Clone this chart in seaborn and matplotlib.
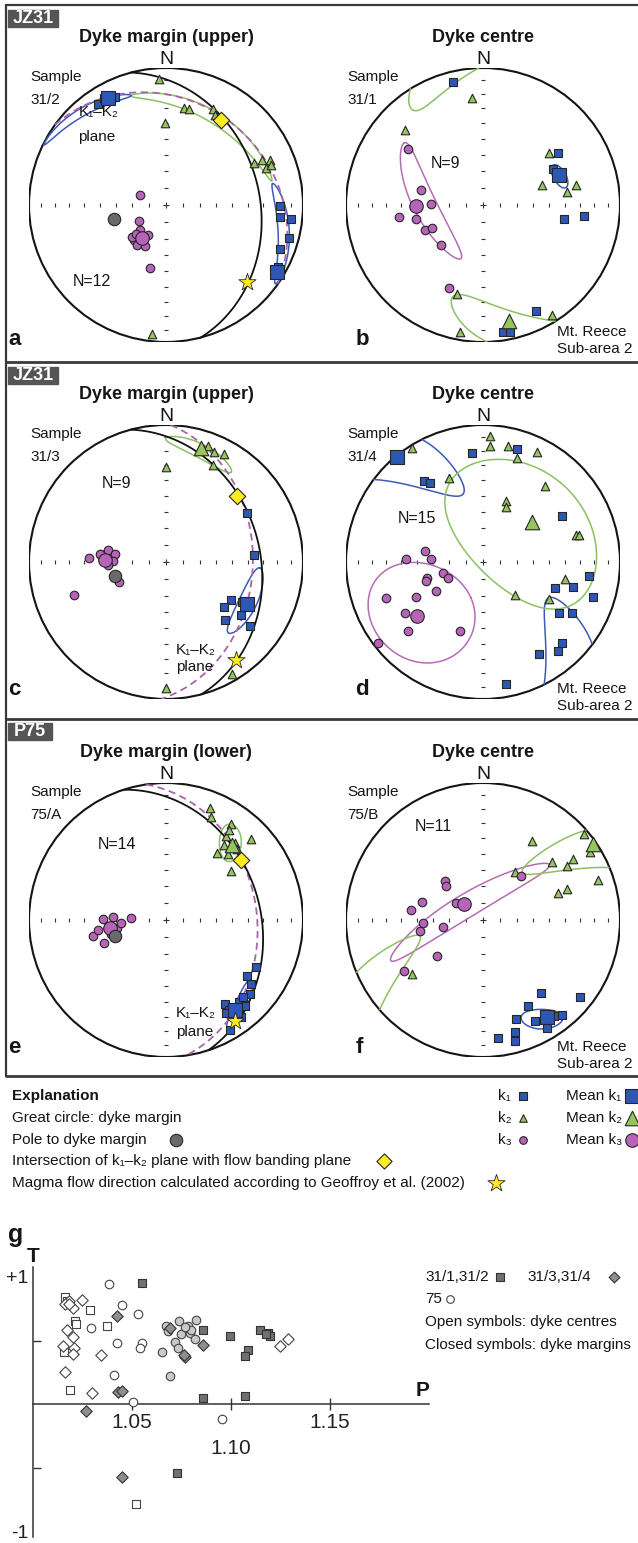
import numpy as np
import pandas as pd
import matplotlib
matplotlib.use("Agg")
import matplotlib.pyplot as plt
from matplotlib.patches import Circle, Rectangle
import seaborn as sns

sns.set_theme(style="white")
plt.rcParams['font.family'] = ['Liberation Sans', 'DejaVu Sans']
plt.rcParams['text.color'] = '#151515'

# ---- stereonet data: (x = east, y = north) on a unit equal-area net ----
# panel a  (31/2, dyke margin upper)
a_k1 = [(-0.50, 0.74), (-0.45, 0.78), (-0.37, 0.79), (0.83, -0.01), (0.83, -0.09),
        (0.91, -0.10), (0.90, -0.24), (0.83, -0.32), (0.82, -0.45)]
a_k1m = [(-0.42, 0.78), (0.81, -0.49)]
a_k2 = [(-0.05, 0.92), (-0.01, 0.60), (0.13, 0.71), (0.17, 0.70), (0.34, 0.70), (0.36, 0.66),
        (0.64, 0.31), (0.70, 0.33), (0.76, 0.33), (0.73, 0.27), (0.77, 0.29), (-0.10, -0.94)]
a_k2m = []
a_k3 = [(-0.19, 0.07), (-0.20, -0.12), (-0.19, -0.18), (-0.13, -0.22), (-0.235, -0.255),
        (-0.21, -0.29), (-0.15, -0.30), (-0.12, -0.46), (-0.25, -0.235), (-0.16, -0.235), (-0.22, -0.21)]
a_k3m = [(-0.175, -0.243)]
a_pole, a_diamond, a_star = (-0.38, -0.10), (0.40, 0.62), (0.59, -0.56)
# cones: centre x, centre y, long-axis aim x, aim y, semi-angles (deg), colour
a_cones = [(0.35, 0.64, 0.77, 0.18, 44, 4, 'g'), (0.86, -0.20, 0.78, 0.15, 25, 4, 'b'),
           (-0.60, 0.685, -0.89, 0.44, 24, 3, 'b')]

# panel b  (31/1, dyke centre)
b_k1 = [(-0.22, 0.895), (0.55, 0.38), (0.51, 0.26), (0.59, -0.10), (0.74, -0.08),
        (0.39, -0.775), (0.145, -0.93), (0.20, -0.93)]
b_k1m = [(0.555, 0.22)]
b_k2 = [(-0.08, 0.78), (-0.57, 0.55), (0.48, 0.38), (0.43, 0.145), (0.61, 0.095), (0.68, 0.145),
        (-0.19, -0.65), (0.50, -0.80), (-0.165, -0.93)]
b_k2m = [(0.19, -0.85)]
b_k3 = [(-0.55, 0.41), (-0.45, 0.11), (-0.38, 0.005), (-0.61, -0.09), (-0.49, -0.10),
        (-0.42, -0.18), (-0.37, -0.165), (-0.305, -0.29), (-0.245, -0.605)]
b_k3m = [(-0.49, -0.01)]
b_cones = [(0.17, -0.91, -0.21, -0.66, 35, 12, 'g'), (-0.43, 0.01, -0.57, 0.43, 38, 7, 'p'),
           (0.56, 0.21, 0.62, 0.10, 7, 4, 'b')]

# panel c  (31/3, dyke margin upper)
c_k1 = [(0.59, 0.36), (0.64, 0.05), (0.475, -0.28), (0.42, -0.33), (0.555, -0.29),
        (0.545, -0.39), (0.61, -0.47), (0.43, -0.42)]
c_k1m = [(0.59, -0.31)]
c_k2 = [(0.305, 0.845), (0.35, 0.80), (0.42, 0.785), (0.345, 0.71), (0.00, 0.69),
        (0.48, -0.815), (0.00, -0.92), (0.27, 0.82)]
c_k2m = [(0.255, 0.835)]
c_k3 = [(-0.56, 0.03), (-0.48, 0.06), (-0.425, 0.085), (-0.37, 0.06), (-0.39, 0.01),
        (-0.42, -0.025), (-0.345, -0.145), (-0.67, -0.24)]
c_k3m = [(-0.445, 0.015)]
c_pole, c_diamond, c_star = (-0.375, -0.10), (0.52, 0.48), (0.51, -0.715)
c_cones = [(0.255, 0.81, 0.475, 0.654, 18, 5, 'g'), (0.598, -0.294, 0.684, -0.049, 19, 6, 'b'),
           (-0.45, 0.04, -0.35, 0.0, 5, 3, 'p')]

# panel d  (31/4, dyke centre)
d_k1 = [(-0.43, 0.59), (-0.39, 0.575), (-0.08, 0.795), (0.25, 0.825), (0.58, 0.335),
        (0.775, -0.10), (0.66, -0.18), (0.525, -0.19), (0.80, -0.255), (0.555, -0.375),
        (0.65, -0.375), (0.58, -0.59), (0.55, -0.65), (0.41, -0.675), (0.165, -0.89)]
d_k1m = [(-0.625, 0.77)]
d_k2 = [(0.05, 0.92), (0.05, 0.845), (-0.515, 0.835), (0.18, 0.85), (0.25, 0.76), (0.395, 0.805),
        (-0.245, 0.615), (0.455, 0.555), (0.165, 0.445), (0.165, 0.405), (0.68, 0.195),
        (0.70, 0.20), (0.60, -0.125), (0.23, -0.24), (0.48, -0.27)]
d_k2m = [(0.36, 0.295)]
d_k3 = [(-0.425, 0.08), (-0.38, 0.025), (-0.565, 0.02), (-0.295, -0.08), (-0.255, -0.115),
        (-0.41, -0.115), (-0.415, -0.14), (-0.34, -0.21), (-0.705, -0.26), (-0.49, -0.255),
        (-0.57, -0.37), (-0.545, -0.50), (-0.165, -0.505), (-0.77, -0.59)]
d_k3m = [(-0.485, -0.395)]
d_cones = [(-0.626, 0.765, -0.145, 0.49, 50, 12.5, 'b'), (0.323, 0.246, 0.704, -0.283, 52, 37, 'g'),
           (-0.466, -0.382, -0.084, -0.259, 33, 29, 'p')]

# panel e  (75/A, dyke margin lower)
e_k1 = [(0.66, -0.34), (0.59, -0.41), (0.61, -0.54), (0.53, -0.60), (0.43, -0.61), (0.46, -0.66),
        (0.58, -0.63), (0.49, -0.70), (0.47, -0.80), (0.44, -0.68), (0.56, -0.56), (0.62, -0.47),
        (0.55, -0.71)]
e_k1m = [(0.50, -0.66)]
e_k2 = [(0.32, 0.82), (0.33, 0.75), (0.475, 0.70), (0.44, 0.615), (0.50, 0.565), (0.62, 0.59),
        (0.375, 0.49), (0.45, 0.48), (0.475, 0.355), (0.52, 0.52), (0.46, 0.66), (0.42, 0.55)]
e_k2m = [(0.48, 0.55)]
e_k3 = [(-0.46, 0.01), (-0.385, 0.02), (-0.255, 0.015), (-0.42, -0.05), (-0.535, -0.12),
        (-0.455, -0.17), (-0.36, -0.06), (-0.33, -0.02), (-0.50, -0.07), (-0.40, -0.10)]
e_k3m = [(-0.41, -0.06)]
e_pole, e_diamond, e_star = (-0.37, -0.12), (0.545, 0.44), (0.505, -0.74)
e_cones = [(0.47, 0.565, 0.44, 0.42, 12, 6, 'g'), (0.55, -0.62, 0.62, -0.40, 14, 4, 'b')]

# panel f  (75/B, dyke centre)
f_k1 = [(0.42, -0.53), (0.71, -0.56), (0.33, -0.63), (0.24, -0.72), (0.38, -0.74), (0.58, -0.69),
        (0.47, -0.79), (0.11, -0.86), (0.23, -0.82), (0.23, -0.88), (0.52, -0.70)]
f_k1m = [(0.47, -0.71)]
f_k2 = [(0.36, 0.575), (0.505, 0.425), (0.615, 0.395), (0.655, 0.445), (0.74, 0.63), (0.78, 0.495),
        (0.84, 0.295), (0.55, 0.20), (0.61, 0.225), (0.235, 0.35), (-0.52, -0.395)]
f_k2m = [(0.80, 0.555)]
f_k3 = [(-0.28, 0.285), (-0.27, 0.245), (-0.445, 0.135), (-0.525, 0.07), (-0.20, 0.125),
        (-0.435, -0.025), (-0.46, -0.08), (-0.295, -0.05), (-0.335, -0.26), (-0.58, -0.37), (0.28, 0.32)]
f_k3m = [(-0.14, 0.12)]
f_cones = [(-0.13, 0.10, 0.494, 0.407, 57, 7, 'p'), (0.84, 0.525, 0.259, 0.333, 54, 9, 'g'),
           (0.43, -0.725, 0.64, -0.73, 12, 6, 'b')]

# ---- T-P diagram (panel g) ----
p_75B = [1.0385, 1.0447, 1.0529, 1.0291, 1.0422, 1.0553, 1.0541, 1.0410, 1.0506, 1.0955]
t_75B = [0.946, 0.779, 0.710, 0.602, 0.484, 0.484, 0.440, 0.233, 0.022, -0.111]
p_75A = [1.0672, 1.0680, 1.0738, 1.0783, 1.0824, 1.0748, 1.0791, 1.0820, 1.0717, 1.0730,
         1.0652, 1.0693, 1.0799, 1.0768]
t_75A = [0.619, 0.577, 0.651, 0.612, 0.663, 0.553, 0.558, 0.514, 0.489, 0.442, 0.410, 0.226,
         0.582, 0.607]
p_312 = [1.0549, 1.0861, 1.0996, 1.1148, 1.1189, 1.1197, 1.1086, 1.1072, 1.0861, 1.1070, 1.0727, 1.1178]
t_312 = [0.956, 0.587, 0.536, 0.580, 0.563, 0.533, 0.425, 0.378, 0.047, 0.066, -0.541, 0.553]
p_311 = [1.0164, 1.0170, 1.0287, 1.0211, 1.0373, 1.0158, 1.0189, 1.0520, 1.0217]
t_311 = [0.840, 0.813, 0.742, 0.656, 0.612, 0.410, 0.115, -0.781, 0.631]
p_313 = [1.0422, 1.0693, 1.0857, 1.0768, 1.0762, 1.0430, 1.0451, 1.0266, 1.0447]
t_313 = [0.695, 0.600, 0.469, 0.371, 0.386, 0.101, 0.108, -0.049, -0.572]
p_314 = [1.0246, 1.0184, 1.0164, 1.0201, 1.0174, 1.0201, 1.0154, 1.0209, 1.0201, 1.0344,
         1.0164, 1.0297, 1.1246, 1.1287, 1.0180]
t_314 = [0.823, 0.811, 0.784, 0.754, 0.587, 0.528, 0.459, 0.440, 0.398, 0.386, 0.251, 0.091,
         0.455, 0.516, 0.791]

BLUE, GREEN, PURPLE = '#2d57b4', '#95c55b', '#b763b8'
EDGE = '#262626'
LINE = {'b': '#3c5bb8', 'g': '#8cc063', 'p': '#b46db4'}

W, H = 638, 1543
R = 137
fig = plt.figure(figsize=(W / 100, H / 100), dpi=100)
bg = fig.add_axes([0, 0, 1, 1])
bg.set_xlim(0, W)
bg.set_ylim(H, 0)
bg.axis('off')


def to_vec(x, y):
    d = 1 - (x * x + y * y)
    f = np.sqrt(1 + d)
    return np.array([x * f, y * f, d])


def project(v):
    v = v / np.linalg.norm(v, axis=0)
    flip = v[2] < 0
    v = np.where(flip, -v, v)
    s = np.sqrt(1 + v[2])
    return v[0] / s, v[1] / s, flip


def great_circle(ax, pole, **kw):
    n = to_vec(*pole)
    n = n / np.linalg.norm(n)
    a = np.cross(n, [0, 0, 1.0])
    a /= np.linalg.norm(a)
    b = np.cross(n, a)
    if b[2] < 0:
        b = -b
    t = np.linspace(0, np.pi, 300)
    v = np.outer(a, np.cos(t)) + np.outer(b, np.sin(t))
    x, y, _ = project(v)
    ax.plot(x, y, **kw)


def draw_cone(ax, c):
    cx, cy, px, py, sa, sb, key = c
    m = to_vec(cx, cy)
    m = m / np.linalg.norm(m)
    p = to_vec(px, py)
    p = p / np.linalg.norm(p)
    u = p - p.dot(m) * m
    u /= np.linalg.norm(u)
    w = np.cross(m, u)
    t = np.linspace(0, 2 * np.pi, 721)
    v = (m[:, None] + np.tan(np.radians(sa)) * np.cos(t) * u[:, None]
         + np.tan(np.radians(sb)) * np.sin(t) * w[:, None])
    x, y, flip = project(v)
    cut = np.where(np.diff(flip.astype(int)) != 0)[0] + 1
    for sx, sy in zip(np.split(x, cut), np.split(y, cut)):
        ax.plot(sx, sy, color=LINE[key], lw=1.1, zorder=2)


def pts(ax, data, marker, s, color, z, lw=0.8):
    if not data:
        return
    df = pd.DataFrame(data, columns=['x', 'y'])
    sns.scatterplot(data=df, x='x', y='y', ax=ax, marker=marker, s=s, color=color,
                    edgecolor=EDGE, linewidth=lw, zorder=z, legend=False, clip_on=False)


def net(cx, cy, title, sample, ncount, npos, letter, lpos, k1, k1m, k2, k2m, k3, k3m, cones,
        pole=None, diamond=None, star=None, k12pos=None, reece=False):
    ax = fig.add_axes([(cx - R) / W, 1 - (cy + R) / H, 2 * R / W, 2 * R / H])
    ax.add_patch(Circle((0, 0), 1, fill=False, lw=1.5, ec='#141414', zorder=1.5))
    r = np.sqrt(1 - np.sin(np.radians(np.arange(80, 0, -10))))
    ax.plot(np.r_[r, -r], np.zeros(16), ls='none', marker='|', ms=3, mew=0.8, color='#333')
    ax.plot(np.zeros(16), np.r_[r, -r], ls='none', marker='_', ms=3, mew=0.8, color='#333')
    ax.plot([0], [0], ls='none', marker='+', ms=4, mew=0.8, color='#333')
    for c in cones:
        draw_cone(ax, c)
    if pole is not None:
        great_circle(ax, pole, color='#111', lw=1.3, zorder=2.2)
        great_circle(ax, k3m[0], color='#a865a8', lw=1.3, ls=(0, (4, 2.5)), zorder=2.1)
    pts(ax, k1, 's', 40, BLUE, 3)
    pts(ax, k2, '^', 38, GREEN, 3)
    pts(ax, k3, 'o', 38, PURPLE, 3)
    pts(ax, k1m, 's', 95, BLUE, 4)
    pts(ax, k2m, '^', 110, GREEN, 4)
    pts(ax, k3m, 'o', 95, PURPLE, 4)
    if pole is not None:
        pts(ax, [pole], 'o', 80, '#6a6a6a', 4.5)
        pts(ax, [diamond], 'D', 70, '#ffec1f', 5)
        pts(ax, [star], '*', 170, '#ffec1f', 5, lw=0.6)
    ax.set_xlim(-1, 1)
    ax.set_ylim(-1, 1)
    ax.axis('off')
    ax.text(0, 1.22, title, ha='center', va='center', fontsize=13, fontweight='bold')
    ax.text(0, 1.065, 'N', ha='center', va='center', fontsize=14)
    ax.text(-0.99, 0.935, 'Sample', ha='left', va='center', fontsize=11)
    ax.text(-0.99, 0.77, sample, ha='left', va='center', fontsize=11)
    ax.text(npos[0], npos[1], 'N=' + ncount, ha='left', va='center', fontsize=11.5)
    ax.text(lpos[0], lpos[1], letter, ha='left', va='center', fontsize=16, fontweight='bold')
    if k12pos is not None:
        ax.text(k12pos[0], k12pos[1], 'K\u2081\u2013K\u2082', ha='left', va='center', fontsize=11)
        ax.text(k12pos[0], k12pos[2], 'plane', ha='left', va='center', fontsize=11)
    if reece:
        ax.text(0.54, -0.93, 'Mt. Reece', ha='left', va='center', fontsize=11)
        ax.text(0.54, -1.05, 'Sub-area 2', ha='left', va='center', fontsize=11)
    return ax


net(166, 205, 'Dyke margin (upper)', '31/2', '12', (-0.68, -0.56), 'a', (-1.15, -0.98),
    a_k1, a_k1m, a_k2, a_k2m, a_k3, a_k3m, a_cones, a_pole, a_diamond, a_star,
    k12pos=(-0.64, 0.68, 0.50))
net(483, 205, 'Dyke centre', '31/1', '9', (-0.38, 0.30), 'b', (-0.93, -0.98),
    b_k1, b_k1m, b_k2, b_k2m, b_k3, b_k3m, b_cones, reece=True)
net(166, 562, 'Dyke margin (upper)', '31/3', '9', (-0.47, 0.575), 'c', (-1.15, -0.93),
    c_k1, c_k1m, c_k2, c_k2m, c_k3, c_k3m, c_cones, c_pole, c_diamond, c_star,
    k12pos=(0.07, -0.64, -0.77))
net(483, 562, 'Dyke centre', '31/4', '15', (-0.62, 0.32), 'd', (-0.93, -0.93),
    d_k1, d_k1m, d_k2, d_k2m, d_k3, d_k3m, d_cones, reece=True)
net(166, 920, 'Dyke margin (lower)', '75/A', '14', (-0.50, 0.55), 'e', (-1.15, -0.93),
    e_k1, e_k1m, e_k2, e_k2m, e_k3, e_k3m, e_cones, e_pole, e_diamond, e_star,
    k12pos=(0.07, -0.68, -0.82))
net(483, 920, 'Dyke centre', '75/B', '11', (-0.50, 0.68), 'f', (-0.93, -0.93),
    f_k1, f_k1m, f_k2, f_k2m, f_k3, f_k3m, f_cones, reece=True)

# ---- frame and group tags ----
FR = '#3a3a3a'
bg.plot([6, W], [5, 5], color=FR, lw=1.6)
bg.plot([6, 6], [5, 1076], color=FR, lw=1.6)
for yy in [362, 719, 1076]:
    bg.plot([6, W], [yy, yy], color=FR, lw=2.0)
for tag, y0, wd in [('JZ31', 10, 50), ('JZ31', 367, 50), ('P75', 723, 44)]:
    bg.add_patch(Rectangle((8, y0), wd, 17, color='#555555', zorder=3))
    bg.text(8 + wd / 2, y0 + 8.8, tag, color='white', fontsize=13, fontweight='bold',
            ha='center', va='center', zorder=4)

# ---- explanation ----
ex_y = [1096, 1118, 1140, 1161, 1183]
bg.text(12, ex_y[0], 'Explanation', fontsize=11, fontweight='bold', va='center')
bg.text(12, ex_y[1], 'Great circle: dyke margin', fontsize=11, va='center')
bg.text(12, ex_y[2], 'Pole to dyke margin', fontsize=11, va='center')
bg.text(12, ex_y[3], 'Intersection of k\u2081\u2013k\u2082 plane with flow banding plane', fontsize=11, va='center')
bg.text(12, ex_y[4], 'Magma flow direction calculated according to Geoffroy et al. (2002)', fontsize=11, va='center')
bg.scatter([176], [ex_y[2]], marker='o', s=80, color='#6a6a6a', edgecolor=EDGE, lw=0.8)
bg.scatter([384], [ex_y[3]], marker='D', s=60, color='#ffec1f', edgecolor=EDGE, lw=0.8)
bg.scatter([496], [ex_y[4]], marker='*', s=170, color='#ffec1f', edgecolor=EDGE, lw=0.6)
for i, (mk, col, s_small, s_big) in enumerate([('s', BLUE, 30, 95), ('^', GREEN, 30, 110),
                                                ('o', PURPLE, 30, 95)]):
    yy = ex_y[i]
    bg.text(498, yy, 'k' + '\u2081\u2082\u2083'[i], fontsize=11, va='center')
    bg.scatter([523], [yy], marker=mk, s=s_small, color=col, edgecolor=EDGE, lw=0.8)
    bg.text(566, yy, 'Mean k' + '\u2081\u2082\u2083'[i], fontsize=11, va='center')
    bg.scatter([632], [yy], marker=mk, s=s_big, color=col, edgecolor=EDGE, lw=0.8, clip_on=False)

# ---- panel g: T vs P ----
# T = +1 at y 1277, T = -1 at y 1532
gax = fig.add_axes([33 / W, 1 - 1537 / H, 396 / W, (1537 - 1267) / H])
gax.patch.set_alpha(0)
GE = '#444444'
sns.scatterplot(x=p_75B, y=t_75B, ax=gax, marker='o', s=38, color='white', edgecolor=GE, linewidth=0.8, zorder=3)
sns.scatterplot(x=p_75A, y=t_75A, ax=gax, marker='o', s=38, color='#c8c8c8', edgecolor=GE, linewidth=0.8, zorder=3)
sns.scatterplot(x=p_311, y=t_311, ax=gax, marker='s', s=34, color='white', edgecolor=GE, linewidth=0.8, zorder=3)
sns.scatterplot(x=p_312, y=t_312, ax=gax, marker='s', s=34, color='#707070', edgecolor='#333', linewidth=0.8, zorder=3)
sns.scatterplot(x=p_314, y=t_314, ax=gax, marker='D', s=34, color='white', edgecolor=GE, linewidth=0.8, zorder=3)
sns.scatterplot(x=p_313, y=t_313, ax=gax, marker='D', s=34, color='#8e8e8e', edgecolor='#333', linewidth=0.8, zorder=3)
gax.set_xlim(1.0, 1.2)
gax.set_ylim(-1.04, 1.078)
gax.spines['top'].set_visible(False)
gax.spines['right'].set_visible(False)
gax.spines['bottom'].set_position(('data', 0))
for sp in ['left', 'bottom']:
    gax.spines[sp].set_color('#333')
    gax.spines[sp].set_linewidth(1.1)
gax.set_xticks([1.05, 1.10, 1.15])
gax.set_xticklabels(['1.05', '1.10', '1.15'])
gax.tick_params(axis='x', bottom=True, direction='inout', length=8, width=1, color='#333',
                labelsize=15, pad=2, labelcolor='#222')
gax.xaxis.get_major_ticks()[1].set_pad(21)
gax.set_yticks([-1, 1])
gax.set_yticklabels(['-1', '+1'])
gax.set_yticks([-0.5, 0.5], minor=True)
gax.tick_params(axis='y', which='major', left=True, length=0, labelsize=14, pad=3, labelcolor='#222')
gax.tick_params(axis='y', which='minor', left=True, direction='in', length=6, width=1, color='#333')
gax.set_xlabel('')
gax.set_ylabel('')
gax.grid(False)

bg.text(8, 1235, 'g', fontsize=18, fontweight='bold', va='center', ha='left')
bg.text(33, 1256, 'T', fontsize=15, fontweight='bold', va='center', ha='center')
bg.text(423, 1390, 'P', fontsize=15, fontweight='bold', va='center', ha='center')
bg.text(425, 1277, '31/1,31/2', fontsize=11, va='center')
bg.scatter([500], [1277], marker='s', s=30, color='#707070', edgecolor='#333', lw=0.8)
bg.text(527, 1277, '31/3,31/4', fontsize=11, va='center')
bg.scatter([614], [1277], marker='D', s=30, color='#8e8e8e', edgecolor='#333', lw=0.8)
bg.text(425, 1299, '75', fontsize=11, va='center')
bg.scatter([450], [1299], marker='o', s=30, color='white', edgecolor=GE, lw=0.8)
bg.text(425, 1322, 'Open symbols: dyke centres', fontsize=11, va='center')
bg.text(425, 1345, 'Closed symbols: dyke margins', fontsize=11, va='center')

fig.savefig('out.png', dpi=100)
